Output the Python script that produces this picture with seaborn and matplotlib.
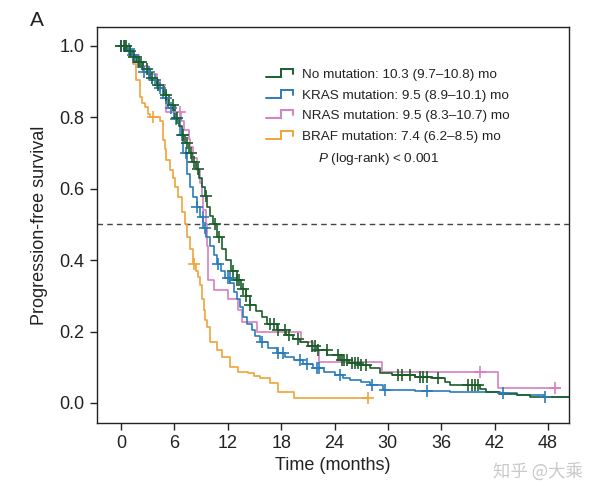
import numpy as np
import pandas as pd
import matplotlib
matplotlib.use("Agg")
import matplotlib.pyplot as plt
import seaborn as sns
from matplotlib.lines import Line2D
from matplotlib.legend_handler import HandlerBase

# ---------------- data ----------------
no_mut_t = [0, 0.7, 1.2, 1.8, 2.5, 3.3, 4.0, 4.8, 5.4, 6.1, 6.5, 6.8, 7.2, 7.6, 8.0, 8.4, 8.8, 9.1, 9.4, 9.7,
            10.0, 10.3, 10.8, 11.3, 11.8, 12.4, 13.0, 13.5, 14.0, 14.5, 15.2, 15.8, 16.4, 17.5, 18.5, 19.3, 20.1,
            21.0, 22.0, 23.2, 24.6, 25.6, 26.9, 28.0, 29.1, 30.5, 33.0, 34.8, 36.4, 37.0, 40.4, 41.0, 42.5, 44.5,
            46.0, 50.5]
no_mut_s = [1.0, 0.985, 0.97, 0.955, 0.935, 0.91, 0.89, 0.862, 0.835, 0.797, 0.775, 0.75, 0.727, 0.70, 0.675,
            0.655, 0.63, 0.605, 0.58, 0.55, 0.525, 0.50, 0.465, 0.43, 0.40, 0.37, 0.345, 0.32, 0.30, 0.275, 0.258,
            0.24, 0.222, 0.204, 0.19, 0.18, 0.172, 0.16, 0.148, 0.135, 0.12, 0.111, 0.106, 0.098, 0.085, 0.078,
            0.072, 0.069, 0.06, 0.05, 0.04, 0.032, 0.026, 0.022, 0.016, 0.016]
no_mut_cens = [0, 0.3, 0.6, 1.0, 1.5, 2.0, 2.3, 2.9, 3.5, 4.2, 5.0, 5.8, 6.3, 7.0, 7.4, 7.9, 8.2, 8.6, 9.5, 10.6,
               11.0, 12.6, 13.0, 13.3, 13.7, 14.1, 14.5, 16.8, 17.2, 17.6, 18.4, 18.9, 19.9, 21.5, 21.8, 22.1,
               23.1, 24.4, 24.8, 25.1, 25.4, 26.0, 26.3, 26.6, 27.0, 27.5, 31.1, 31.6, 32.5, 33.6, 34.0, 34.4,
               35.6, 39.0, 39.5, 39.8, 40.1]

kras_t = [0, 0.5, 1.0, 1.7, 2.5, 3.2, 4.0, 4.7, 5.3, 6.0, 6.6, 7.0, 7.4, 7.8, 8.1, 8.5, 8.9, 9.25, 9.6, 10.0,
          10.4, 10.75, 11.2, 11.7, 12.25, 12.7, 13.0, 13.4, 13.75, 14.2, 14.7, 15.1, 15.6, 16.5, 17.5, 18.4,
          19.4, 20.5, 21.6, 22.8, 24.0, 25.0, 25.7, 27.0, 28.0, 29.5, 33.0, 37.0, 40.0, 42.6, 44.5, 47.5, 50.5]
kras_s = [1.0, 0.99, 0.975, 0.955, 0.928, 0.905, 0.881, 0.855, 0.825, 0.795, 0.75, 0.70, 0.64, 0.605, 0.578,
          0.55, 0.522, 0.49, 0.465, 0.44, 0.415, 0.39, 0.37, 0.35, 0.335, 0.31, 0.29, 0.27, 0.242, 0.222, 0.204,
          0.188, 0.172, 0.155, 0.139, 0.13, 0.12, 0.108, 0.097, 0.088, 0.078, 0.07, 0.064, 0.058, 0.05, 0.036,
          0.034, 0.032, 0.03, 0.027, 0.022, 0.016, 0.016]
kras_cens = [0, 0.4, 0.9, 1.3, 1.9, 2.6, 3.1, 3.8, 4.4, 5.0, 5.6, 6.2, 6.8, 7.3, 8.5, 9.2, 9.4, 10.9, 12.0, 12.2,
             15.8, 17.7, 18.2, 20.1, 20.9, 22.0, 22.3, 24.6, 28.2, 29.7, 34.4, 42.9, 47.7]

nras_t = [0, 1.0, 2.0, 3.0, 4.0, 4.7, 5.1, 6.7, 7.1, 7.6, 7.75, 8.1, 8.5, 8.9, 9.1, 9.25, 9.55, 9.65, 9.75, 9.8,
          10.4, 12.05, 13.2, 13.6, 15.25, 20.2, 21.6, 22.2, 29.3, 42.4, 49.4]
nras_s = [1.0, 0.975, 0.945, 0.92, 0.89, 0.87, 0.816, 0.79, 0.765, 0.74, 0.718, 0.685, 0.653, 0.615, 0.58, 0.54,
          0.5, 0.44, 0.39, 0.345, 0.317, 0.29, 0.26, 0.228, 0.2, 0.172, 0.145, 0.116, 0.088, 0.041, 0.041]
nras_cens = [4.4, 6.6, 40.4, 48.8]

braf_t = [0, 1.0, 1.4, 1.7, 2.1, 2.4, 2.7, 3.0, 3.3, 4.4, 4.75, 4.9, 5.1, 5.5, 5.8, 6.1, 6.45, 6.8, 7.2, 7.4,
          7.75, 8.1, 8.4, 8.7, 8.9, 9.1, 9.3, 9.45, 9.7, 10.0, 10.75, 11.3, 12.25, 13.2, 14.3, 15.0, 15.6, 16.75,
          17.7, 19.4, 27.8]
braf_s = [1.0, 0.975, 0.95, 0.905, 0.858, 0.84, 0.83, 0.81, 0.80, 0.79, 0.737, 0.71, 0.68, 0.653, 0.63, 0.606,
          0.578, 0.536, 0.50, 0.466, 0.43, 0.39, 0.37, 0.354, 0.33, 0.29, 0.26, 0.232, 0.214, 0.172, 0.148, 0.13,
          0.102, 0.088, 0.083, 0.076, 0.069, 0.055, 0.032, 0.013, 0.013]
braf_cens = [3.6, 8.2, 27.8]

labels = ["No mutation: 10.3 (9.7\u201310.8) mo",
          "KRAS mutation: 9.5 (8.9\u201310.1) mo",
          "NRAS mutation: 9.5 (8.3\u201310.7) mo",
          "BRAF mutation: 7.4 (6.2\u20138.5) mo"]
colors = ["#1b5e2b", "#2b7bbb", "#d77fc2", "#f0a33a"]
x_ticks = [0, 6, 12, 18, 24, 30, 36, 42, 48]
y_ticks = [0.0, 0.2, 0.4, 0.6, 0.8, 1.0]
pval_text = "$P$ (log-rank) < 0.001"

# ---------------- style ----------------
sns.set_style("ticks")
plt.rcParams["font.family"] = ["Liberation Sans", "DejaVu Sans"]
plt.rcParams["mathtext.fontset"] = "custom"
plt.rcParams["mathtext.it"] = "Liberation Sans:italic"
plt.rcParams["mathtext.rm"] = "Liberation Sans"

fig = plt.figure(figsize=(6.0, 4.95), dpi=100)
ax = fig.add_axes([0.1617, 0.1455, 0.7866, 0.80])

series = [(no_mut_t, no_mut_s, no_mut_cens), (kras_t, kras_s, kras_cens),
          (nras_t, nras_s, nras_cens), (braf_t, braf_s, braf_cens)]

order = [2, 3, 1, 0]
for i in order:
    t, s, c = series[i]
    df = pd.DataFrame({"t": t, "s": s})
    sns.lineplot(data=df, x="t", y="s", ax=ax, color=colors[i], lw=1.2,
                 drawstyle="steps-post", estimator=None, sort=False, zorder=2)
    tt = np.asarray(t)
    ss = np.asarray(s)
    cc = np.asarray(c)
    idx = np.searchsorted(tt, cc, side="right") - 1
    cy = ss[np.clip(idx, 0, len(ss) - 1)]
    ax.plot(cc, cy, linestyle="none", marker="+", markersize=8, markeredgewidth=1.2,
            color=colors[i], zorder=3)

ax.axhline(0.5, color="#444444", lw=1.0, ls=(0, (4, 3)), zorder=1)

ax.set_xlim(-2.7, 50.36)
ax.set_ylim(-0.056, 1.053)
ax.set_xticks(x_ticks)
ax.set_yticks(y_ticks)
ax.set_yticklabels([f"{v:.1f}" for v in y_ticks])
ax.tick_params(axis="both", labelsize=13, length=5, width=1, colors="#222222", pad=4)
ax.set_xlabel("Time (months)", fontsize=13, color="#222222", labelpad=3)
ax.set_ylabel("Progression-free survival", fontsize=13, color="#222222", labelpad=8)
for sp in ax.spines.values():
    sp.set_visible(True)
    sp.set_linewidth(1.0)
    sp.set_color("#222222")


class HandlerStep(HandlerBase):
    def create_artists(self, legend, orig_handle, xdescent, ydescent, width, height, fontsize, trans):
        x0, y0 = -xdescent, -ydescent
        xs = [x0, x0 + 0.55 * width, x0 + 0.55 * width, x0 + width, x0 + width]
        ys = [y0 + 0.1 * height, y0 + 0.1 * height, y0 + 0.95 * height, y0 + 0.95 * height, y0 + 0.45 * height]
        ln = Line2D(xs, ys, color=orig_handle.get_color(), lw=1.4, solid_joinstyle="miter")
        ln.set_transform(trans)
        return [ln]


handles = [Line2D([], [], color=c) for c in colors]
leg = fig.legend(handles, labels, handler_map={Line2D: HandlerStep()},
                 loc="upper left", bbox_to_anchor=(0.443, 0.861), frameon=False,
                 fontsize=9.7, handlelength=2.0, handleheight=0.7, handletextpad=0.65,
                 labelspacing=0.6, borderpad=0, borderaxespad=0)
for txt in leg.get_texts():
    txt.set_color("#222222")

fig.text(0.530, 0.679, pval_text, fontsize=9.7, color="#222222", ha="left", va="center")
fig.text(0.05, 0.958, "A", fontsize=15, color="#222222", ha="left", va="center")
fig.text(0.897, 0.048, "知乎 @大乘", fontsize=12.5, color="#c9c9c9", ha="center", va="center",
         family=["Noto Sans CJK SC", "DejaVu Sans"])

fig.savefig("out.png", dpi=100)
